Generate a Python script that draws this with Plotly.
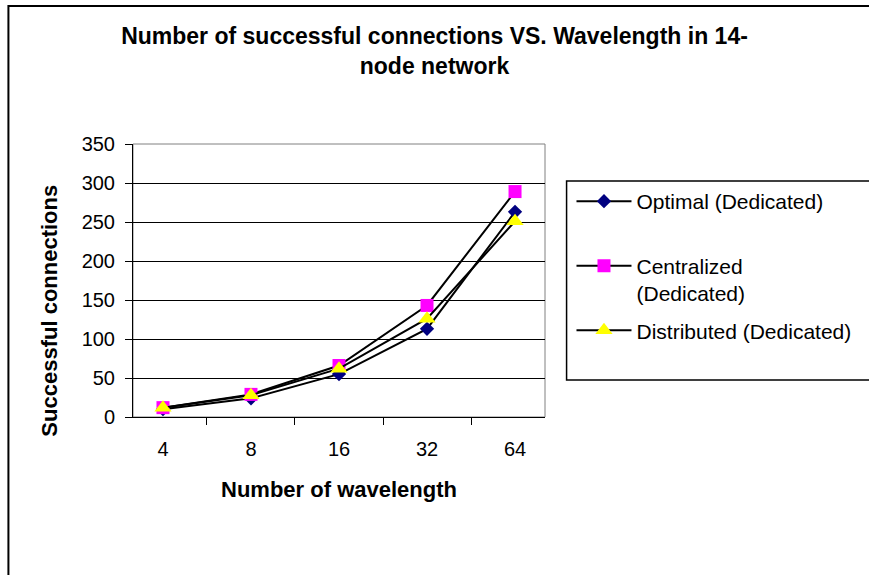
import plotly.graph_objects as go

wavelengths = ["4", "8", "16", "32", "64"]
optimal = [10, 24, 55, 113, 263]
centralized = [12, 29, 66, 143, 289]
distributed = [12, 28, 62, 126, 251]
series_names = ["Optimal (Dedicated)<br>&nbsp;", "Centralized<br>(Dedicated)", "Distributed (Dedicated)"]
title_text = "Number of successful connections VS. Wavelength in 14-<br>node network"
x_title = "Number of wavelength"
y_title = "Successful connections"

FONT = "Liberation Sans, Arial, sans-serif"
W, H = 869, 575
L, R, T, B = 133, 316, 144, 158
PW, PH = W - L - R, H - T - B

def px(x):
    return (x - L) / PW

def py(y):
    return (H - B - y) / PH

fig = go.Figure()
styles = [
    dict(symbol="diamond", color="#000080", size=11),
    dict(symbol="square", color="#FF00FF", size=13),
    dict(symbol="triangle-up", color="#FFFF00", size=15),
]
for i, (name, vals, st) in enumerate(zip(series_names, [optimal, centralized, distributed], styles)):
    fig.add_trace(go.Scatter(
        x=wavelengths, y=vals, name=name, mode="lines+markers",
        legendgroup=f"g{i}",
        line=dict(color="black", width=2),
        marker=dict(symbol=st["symbol"], color=st["color"], size=st["size"], line=dict(width=0)),
    ))

fig.update_layout(
    width=W, height=H,
    margin=dict(l=L, r=R, t=T, b=B),
    paper_bgcolor="white", plot_bgcolor="white",
    font=dict(family=FONT, color="black", size=20),
    title=dict(text="<b>" + title_text + "</b>", x=0.5, xref="container", xanchor="center",
               y=1 - 44 / H, yref="container", yanchor="top",
               font=dict(size=23, family=FONT, color="black")),
    showlegend=True,
    legend=dict(x=px(580), y=py(181), xanchor="left", yanchor="top",
                font=dict(size=21, family=FONT, color="black"),
                bgcolor="rgba(0,0,0,0)", borderwidth=0,
                tracegroupgap=7, valign="top", itemwidth=55,
                traceorder="grouped"),
    xaxis=dict(type="category", showgrid=False, zeroline=False,
               showline=True, linecolor="black", linewidth=1,
               ticks="outside", ticklen=7, tickcolor="black", tickson="boundaries",
               ticklabelstandoff=14, tickfont=dict(size=20),
               title=dict(text="<b>" + x_title + "</b>", font=dict(size=22), standoff=22)),
    yaxis=dict(range=[0, 350], dtick=50, showgrid=True, gridcolor="black", gridwidth=1,
               zeroline=False, showline=True, linecolor="black", linewidth=1,
               ticks="outside", ticklen=7, tickcolor="black",
               ticklabelstandoff=6, tickfont=dict(size=20)),
    annotations=[dict(text="<b>" + y_title + "</b>", x=px(47), y=py(311), xref="paper", yref="paper",
                      xanchor="center", yanchor="middle",
                      textangle=-90, showarrow=False, font=dict(size=22, family=FONT, color="black"))],
    shapes=[
        # plot area border
        dict(type="rect", xref="paper", yref="paper", x0=0, x1=1, y0=0, y1=1,
             line=dict(color="#808080", width=1), layer="below"),
        # chart outer border
        dict(type="rect", xref="paper", yref="paper", x0=px(6), x1=px(890), y0=py(600), y1=py(6),
             line=dict(color="black", width=2)),
        # legend border
        dict(type="rect", xref="paper", yref="paper", x0=px(575), x1=px(890), y0=py(380), y1=py(181),
             line=dict(color="black", width=1.5)),
    ],
)

fig.write_html("out.html", config={"displayModeBar": False},
               post_script="document.body.style.margin='0px';document.body.style.overflow='hidden';")
